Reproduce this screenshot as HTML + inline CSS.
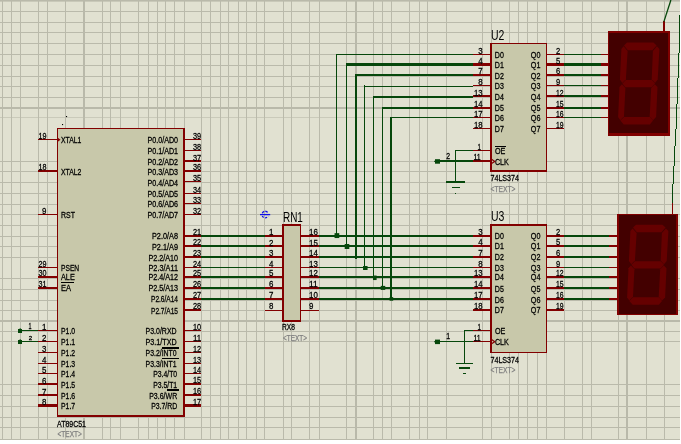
<!DOCTYPE html>
<html><head><meta charset="utf-8"><title>schematic</title>
<style>html,body{margin:0;padding:0;background:#fff;overflow:hidden}svg{display:block;font-family:"Liberation Sans",sans-serif}text{font-family:"Liberation Sans",sans-serif}svg{will-change:transform}</style></head>
<body>
<svg width="681" height="444" viewBox="0 0 681 444">
<rect x="0" y="0" width="681" height="444" fill="#e1e1d1"/>
<rect x="0" y="0" width="681" height="1.6" fill="#b9b9aa"/>
<line x1="2.5" y1="0" x2="2.5" y2="440" stroke="#babaab" stroke-width="1"  shape-rendering="crispEdges"/>
<line x1="11.5" y1="0" x2="11.5" y2="440" stroke="#babaab" stroke-width="1"  shape-rendering="crispEdges"/>
<line x1="20.5" y1="0" x2="20.5" y2="440" stroke="#babaab" stroke-width="1"  shape-rendering="crispEdges"/>
<line x1="38.5" y1="0" x2="38.5" y2="440" stroke="#babaab" stroke-width="1"  shape-rendering="crispEdges"/>
<line x1="47.5" y1="0" x2="47.5" y2="440" stroke="#babaab" stroke-width="1"  shape-rendering="crispEdges"/>
<line x1="65.5" y1="0" x2="65.5" y2="440" stroke="#babaab" stroke-width="1"  shape-rendering="crispEdges"/>
<line x1="84.0" y1="0" x2="84.0" y2="440" stroke="#b9b9aa" stroke-width="2"  shape-rendering="crispEdges"/>
<line x1="102.5" y1="0" x2="102.5" y2="440" stroke="#babaab" stroke-width="1"  shape-rendering="crispEdges"/>
<line x1="110.5" y1="0" x2="110.5" y2="440" stroke="#babaab" stroke-width="1"  shape-rendering="crispEdges"/>
<line x1="120.5" y1="0" x2="120.5" y2="440" stroke="#babaab" stroke-width="1"  shape-rendering="crispEdges"/>
<line x1="138.5" y1="0" x2="138.5" y2="440" stroke="#babaab" stroke-width="1"  shape-rendering="crispEdges"/>
<line x1="148.5" y1="0" x2="148.5" y2="440" stroke="#babaab" stroke-width="1"  shape-rendering="crispEdges"/>
<line x1="157.5" y1="0" x2="157.5" y2="440" stroke="#babaab" stroke-width="1"  shape-rendering="crispEdges"/>
<line x1="165.5" y1="0" x2="165.5" y2="440" stroke="#babaab" stroke-width="1"  shape-rendering="crispEdges"/>
<line x1="174.5" y1="0" x2="174.5" y2="440" stroke="#babaab" stroke-width="1"  shape-rendering="crispEdges"/>
<line x1="184.5" y1="0" x2="184.5" y2="440" stroke="#babaab" stroke-width="1"  shape-rendering="crispEdges"/>
<line x1="201.5" y1="0" x2="201.5" y2="440" stroke="#babaab" stroke-width="1"  shape-rendering="crispEdges"/>
<line x1="210.5" y1="0" x2="210.5" y2="440" stroke="#babaab" stroke-width="1"  shape-rendering="crispEdges"/>
<line x1="220.5" y1="0" x2="220.5" y2="440" stroke="#babaab" stroke-width="1"  shape-rendering="crispEdges"/>
<line x1="228.5" y1="0" x2="228.5" y2="440" stroke="#babaab" stroke-width="1"  shape-rendering="crispEdges"/>
<line x1="238.5" y1="0" x2="238.5" y2="440" stroke="#babaab" stroke-width="1"  shape-rendering="crispEdges"/>
<line x1="246.5" y1="0" x2="246.5" y2="440" stroke="#babaab" stroke-width="1"  shape-rendering="crispEdges"/>
<line x1="256.5" y1="0" x2="256.5" y2="440" stroke="#babaab" stroke-width="1"  shape-rendering="crispEdges"/>
<line x1="264.5" y1="0" x2="264.5" y2="440" stroke="#babaab" stroke-width="1"  shape-rendering="crispEdges"/>
<line x1="283.5" y1="0" x2="283.5" y2="440" stroke="#babaab" stroke-width="1"  shape-rendering="crispEdges"/>
<line x1="291.5" y1="0" x2="291.5" y2="440" stroke="#babaab" stroke-width="1"  shape-rendering="crispEdges"/>
<line x1="309.5" y1="0" x2="309.5" y2="440" stroke="#babaab" stroke-width="1"  shape-rendering="crispEdges"/>
<line x1="319.5" y1="0" x2="319.5" y2="440" stroke="#babaab" stroke-width="1"  shape-rendering="crispEdges"/>
<line x1="346.5" y1="0" x2="346.5" y2="440" stroke="#babaab" stroke-width="1"  shape-rendering="crispEdges"/>
<line x1="356.0" y1="0" x2="356.0" y2="440" stroke="#b9b9aa" stroke-width="2"  shape-rendering="crispEdges"/>
<line x1="373.5" y1="0" x2="373.5" y2="440" stroke="#babaab" stroke-width="1"  shape-rendering="crispEdges"/>
<line x1="382.5" y1="0" x2="382.5" y2="440" stroke="#babaab" stroke-width="1"  shape-rendering="crispEdges"/>
<line x1="391.5" y1="0" x2="391.5" y2="440" stroke="#babaab" stroke-width="1"  shape-rendering="crispEdges"/>
<line x1="409.5" y1="0" x2="409.5" y2="440" stroke="#babaab" stroke-width="1"  shape-rendering="crispEdges"/>
<line x1="419.5" y1="0" x2="419.5" y2="440" stroke="#babaab" stroke-width="1"  shape-rendering="crispEdges"/>
<line x1="427.5" y1="0" x2="427.5" y2="440" stroke="#babaab" stroke-width="1"  shape-rendering="crispEdges"/>
<line x1="446.5" y1="0" x2="446.5" y2="440" stroke="#babaab" stroke-width="1"  shape-rendering="crispEdges"/>
<line x1="482.5" y1="0" x2="482.5" y2="440" stroke="#babaab" stroke-width="1"  shape-rendering="crispEdges"/>
<line x1="491.5" y1="0" x2="491.5" y2="440" stroke="#babaab" stroke-width="1"  shape-rendering="crispEdges"/>
<line x1="509.5" y1="0" x2="509.5" y2="440" stroke="#babaab" stroke-width="1"  shape-rendering="crispEdges"/>
<line x1="518.5" y1="0" x2="518.5" y2="440" stroke="#babaab" stroke-width="1"  shape-rendering="crispEdges"/>
<line x1="527.5" y1="0" x2="527.5" y2="440" stroke="#babaab" stroke-width="1"  shape-rendering="crispEdges"/>
<line x1="537.5" y1="0" x2="537.5" y2="440" stroke="#babaab" stroke-width="1"  shape-rendering="crispEdges"/>
<line x1="546.5" y1="0" x2="546.5" y2="440" stroke="#babaab" stroke-width="1"  shape-rendering="crispEdges"/>
<line x1="564.5" y1="0" x2="564.5" y2="440" stroke="#babaab" stroke-width="1"  shape-rendering="crispEdges"/>
<line x1="582.5" y1="0" x2="582.5" y2="440" stroke="#babaab" stroke-width="1"  shape-rendering="crispEdges"/>
<line x1="591.5" y1="0" x2="591.5" y2="440" stroke="#babaab" stroke-width="1"  shape-rendering="crispEdges"/>
<line x1="618.5" y1="0" x2="618.5" y2="440" stroke="#babaab" stroke-width="1"  shape-rendering="crispEdges"/>
<line x1="627.0" y1="0" x2="627.0" y2="440" stroke="#b9b9aa" stroke-width="2"  shape-rendering="crispEdges"/>
<line x1="646.5" y1="0" x2="646.5" y2="440" stroke="#babaab" stroke-width="1"  shape-rendering="crispEdges"/>
<line x1="664.5" y1="0" x2="664.5" y2="440" stroke="#babaab" stroke-width="1"  shape-rendering="crispEdges"/>
<line x1="0" y1="11.5" x2="680" y2="11.5" stroke="#babaab" stroke-width="1"  shape-rendering="crispEdges"/>
<line x1="0" y1="22.5" x2="680" y2="22.5" stroke="#babaab" stroke-width="1"  shape-rendering="crispEdges"/>
<line x1="0" y1="32.5" x2="680" y2="32.5" stroke="#babaab" stroke-width="1"  shape-rendering="crispEdges"/>
<line x1="0" y1="43.5" x2="680" y2="43.5" stroke="#babaab" stroke-width="1"  shape-rendering="crispEdges"/>
<line x1="0" y1="54.5" x2="680" y2="54.5" stroke="#babaab" stroke-width="1"  shape-rendering="crispEdges"/>
<line x1="0" y1="65.5" x2="680" y2="65.5" stroke="#babaab" stroke-width="1"  shape-rendering="crispEdges"/>
<line x1="0" y1="76.5" x2="680" y2="76.5" stroke="#babaab" stroke-width="1"  shape-rendering="crispEdges"/>
<line x1="0" y1="86.5" x2="680" y2="86.5" stroke="#babaab" stroke-width="1"  shape-rendering="crispEdges"/>
<line x1="0" y1="97.5" x2="680" y2="97.5" stroke="#babaab" stroke-width="1"  shape-rendering="crispEdges"/>
<line x1="0" y1="108.0" x2="680" y2="108.0" stroke="#b9b9aa" stroke-width="2"  shape-rendering="crispEdges"/>
<line x1="0" y1="117.5" x2="680" y2="117.5" stroke="#babaab" stroke-width="0.6" />
<line x1="0" y1="161.5" x2="680" y2="161.5" stroke="#babaab" stroke-width="1"  shape-rendering="crispEdges"/>
<line x1="0" y1="171.5" x2="680" y2="171.5" stroke="#babaab" stroke-width="1"  shape-rendering="crispEdges"/>
<line x1="0" y1="182.5" x2="680" y2="182.5" stroke="#babaab" stroke-width="1"  shape-rendering="crispEdges"/>
<line x1="0" y1="193.5" x2="680" y2="193.5" stroke="#babaab" stroke-width="1"  shape-rendering="crispEdges"/>
<line x1="0" y1="204.5" x2="680" y2="204.5" stroke="#babaab" stroke-width="1"  shape-rendering="crispEdges"/>
<line x1="0" y1="214.5" x2="680" y2="214.5" stroke="#babaab" stroke-width="1"  shape-rendering="crispEdges"/>
<line x1="0" y1="225.5" x2="680" y2="225.5" stroke="#babaab" stroke-width="1"  shape-rendering="crispEdges"/>
<line x1="0" y1="236.5" x2="680" y2="236.5" stroke="#babaab" stroke-width="1"  shape-rendering="crispEdges"/>
<line x1="0" y1="246.5" x2="680" y2="246.5" stroke="#babaab" stroke-width="1"  shape-rendering="crispEdges"/>
<line x1="0" y1="257.5" x2="680" y2="257.5" stroke="#babaab" stroke-width="1"  shape-rendering="crispEdges"/>
<line x1="0" y1="278.5" x2="680" y2="278.5" stroke="#babaab" stroke-width="1"  shape-rendering="crispEdges"/>
<line x1="0" y1="289.5" x2="680" y2="289.5" stroke="#babaab" stroke-width="1"  shape-rendering="crispEdges"/>
<line x1="0" y1="300.5" x2="680" y2="300.5" stroke="#babaab" stroke-width="1"  shape-rendering="crispEdges"/>
<line x1="0" y1="310.5" x2="680" y2="310.5" stroke="#babaab" stroke-width="1"  shape-rendering="crispEdges"/>
<line x1="0" y1="321.0" x2="680" y2="321.0" stroke="#b9b9aa" stroke-width="2"  shape-rendering="crispEdges"/>
<line x1="0" y1="331.5" x2="680" y2="331.5" stroke="#babaab" stroke-width="1"  shape-rendering="crispEdges"/>
<line x1="0" y1="341.5" x2="680" y2="341.5" stroke="#babaab" stroke-width="1"  shape-rendering="crispEdges"/>
<line x1="0" y1="384.5" x2="680" y2="384.5" stroke="#babaab" stroke-width="1"  shape-rendering="crispEdges"/>
<line x1="0" y1="395.5" x2="680" y2="395.5" stroke="#babaab" stroke-width="1"  shape-rendering="crispEdges"/>
<line x1="0" y1="406.5" x2="680" y2="406.5" stroke="#babaab" stroke-width="1"  shape-rendering="crispEdges"/>
<line x1="0" y1="417.5" x2="680" y2="417.5" stroke="#babaab" stroke-width="1"  shape-rendering="crispEdges"/>
<line x1="0" y1="427.5" x2="680" y2="427.5" stroke="#babaab" stroke-width="1"  shape-rendering="crispEdges"/>
<line x1="0" y1="439.5" x2="680" y2="439.5" stroke="#babaab" stroke-width="1"  shape-rendering="crispEdges"/>
<rect x="57.5" y="128.5" width="126.5" height="287.5" fill="#c8c8aa"/>
<line x1="57" y1="128.5" x2="185" y2="128.5" stroke="#820000" stroke-width="1"  shape-rendering="crispEdges"/>
<line x1="57.5" y1="128" x2="57.5" y2="417" stroke="#820000" stroke-width="1"  shape-rendering="crispEdges"/>
<line x1="184.0" y1="128" x2="184.0" y2="417" stroke="#820000" stroke-width="2"  shape-rendering="crispEdges"/>
<line x1="57" y1="416.0" x2="185" y2="416.0" stroke="#820000" stroke-width="2"  shape-rendering="crispEdges"/>
<line x1="38" y1="139.5" x2="58" y2="139.5" stroke="#820000" stroke-width="1"  shape-rendering="crispEdges"/>
<text x="46.5" y="139.1" font-size="9.6" text-anchor="end" fill="#000000" font-weight="normal" textLength="8.0" lengthAdjust="spacingAndGlyphs" stroke="#000" stroke-width="0.28" >19</text>
<text x="61" y="143.29999999999998" font-size="9.0" text-anchor="start" fill="#000000" font-weight="normal" textLength="20.4" lengthAdjust="spacingAndGlyphs" stroke="#000" stroke-width="0.28" >XTAL1</text>
<line x1="38" y1="171.0" x2="58" y2="171.0" stroke="#820000" stroke-width="2"  shape-rendering="crispEdges"/>
<text x="46.5" y="170.4" font-size="9.6" text-anchor="end" fill="#000000" font-weight="normal" textLength="8.0" lengthAdjust="spacingAndGlyphs" stroke="#000" stroke-width="0.28" >18</text>
<text x="61" y="174.6" font-size="9.0" text-anchor="start" fill="#000000" font-weight="normal" textLength="20.4" lengthAdjust="spacingAndGlyphs" stroke="#000" stroke-width="0.28" >XTAL2</text>
<line x1="38" y1="214.5" x2="58" y2="214.5" stroke="#820000" stroke-width="1"  shape-rendering="crispEdges"/>
<text x="46.5" y="213.8" font-size="9.6" text-anchor="end" fill="#000000" font-weight="normal" textLength="4.4" lengthAdjust="spacingAndGlyphs" stroke="#000" stroke-width="0.28" >9</text>
<text x="61" y="218.0" font-size="9.0" text-anchor="start" fill="#000000" font-weight="normal" textLength="14" lengthAdjust="spacingAndGlyphs" stroke="#000" stroke-width="0.28" >RST</text>
<line x1="38" y1="267.5" x2="58" y2="267.5" stroke="#820000" stroke-width="1"  shape-rendering="crispEdges"/>
<text x="46.5" y="266.9" font-size="9.6" text-anchor="end" fill="#000000" font-weight="normal" textLength="8.0" lengthAdjust="spacingAndGlyphs" stroke="#000" stroke-width="0.28" >29</text>
<text x="61" y="271.1" font-size="9.0" text-anchor="start" fill="#000000" font-weight="normal" textLength="18.2" lengthAdjust="spacingAndGlyphs" stroke="#000" stroke-width="0.28" >PSEN</text>
<line x1="38" y1="277.0" x2="58" y2="277.0" stroke="#820000" stroke-width="2"  shape-rendering="crispEdges"/>
<text x="46.5" y="276.09999999999997" font-size="9.6" text-anchor="end" fill="#000000" font-weight="normal" textLength="8.0" lengthAdjust="spacingAndGlyphs" stroke="#000" stroke-width="0.28" >30</text>
<text x="61" y="280.3" font-size="9.0" text-anchor="start" fill="#000000" font-weight="normal" textLength="13.8" lengthAdjust="spacingAndGlyphs" stroke="#000" stroke-width="0.28" >ALE</text>
<line x1="38" y1="288.0" x2="58" y2="288.0" stroke="#820000" stroke-width="2"  shape-rendering="crispEdges"/>
<text x="46.5" y="287.09999999999997" font-size="9.6" text-anchor="end" fill="#000000" font-weight="normal" textLength="8.0" lengthAdjust="spacingAndGlyphs" stroke="#000" stroke-width="0.28" >31</text>
<text x="61" y="291.3" font-size="9.0" text-anchor="start" fill="#000000" font-weight="normal" textLength="10" lengthAdjust="spacingAndGlyphs" stroke="#000" stroke-width="0.28" >EA</text>
<line x1="38" y1="330.5" x2="58" y2="330.5" stroke="#820000" stroke-width="1"  shape-rendering="crispEdges"/>
<text x="46.5" y="330.09999999999997" font-size="9.6" text-anchor="end" fill="#000000" font-weight="normal" textLength="4.4" lengthAdjust="spacingAndGlyphs" stroke="#000" stroke-width="0.28" >1</text>
<text x="61" y="334.3" font-size="9.0" text-anchor="start" fill="#000000" font-weight="normal" textLength="14.1" lengthAdjust="spacingAndGlyphs" stroke="#000" stroke-width="0.28" >P1.0</text>
<line x1="38" y1="341.5" x2="58" y2="341.5" stroke="#820000" stroke-width="1"  shape-rendering="crispEdges"/>
<text x="46.5" y="340.7" font-size="9.6" text-anchor="end" fill="#000000" font-weight="normal" textLength="4.4" lengthAdjust="spacingAndGlyphs" stroke="#000" stroke-width="0.28" >2</text>
<text x="61" y="344.90000000000003" font-size="9.0" text-anchor="start" fill="#000000" font-weight="normal" textLength="14.1" lengthAdjust="spacingAndGlyphs" stroke="#000" stroke-width="0.28" >P1.1</text>
<line x1="38" y1="352.5" x2="58" y2="352.5" stroke="#820000" stroke-width="1"  shape-rendering="crispEdges"/>
<text x="46.5" y="351.79999999999995" font-size="9.6" text-anchor="end" fill="#000000" font-weight="normal" textLength="4.4" lengthAdjust="spacingAndGlyphs" stroke="#000" stroke-width="0.28" >3</text>
<text x="61" y="356.0" font-size="9.0" text-anchor="start" fill="#000000" font-weight="normal" textLength="14.1" lengthAdjust="spacingAndGlyphs" stroke="#000" stroke-width="0.28" >P1.2</text>
<line x1="38" y1="363.5" x2="58" y2="363.5" stroke="#820000" stroke-width="1"  shape-rendering="crispEdges"/>
<text x="46.5" y="362.79999999999995" font-size="9.6" text-anchor="end" fill="#000000" font-weight="normal" textLength="4.4" lengthAdjust="spacingAndGlyphs" stroke="#000" stroke-width="0.28" >4</text>
<text x="61" y="367.0" font-size="9.0" text-anchor="start" fill="#000000" font-weight="normal" textLength="14.1" lengthAdjust="spacingAndGlyphs" stroke="#000" stroke-width="0.28" >P1.3</text>
<line x1="38" y1="373.5" x2="58" y2="373.5" stroke="#820000" stroke-width="1"  shape-rendering="crispEdges"/>
<text x="46.5" y="372.79999999999995" font-size="9.6" text-anchor="end" fill="#000000" font-weight="normal" textLength="4.4" lengthAdjust="spacingAndGlyphs" stroke="#000" stroke-width="0.28" >5</text>
<text x="61" y="377.0" font-size="9.0" text-anchor="start" fill="#000000" font-weight="normal" textLength="14.1" lengthAdjust="spacingAndGlyphs" stroke="#000" stroke-width="0.28" >P1.4</text>
<line x1="38" y1="384.0" x2="58" y2="384.0" stroke="#820000" stroke-width="2"  shape-rendering="crispEdges"/>
<text x="46.5" y="383.5" font-size="9.6" text-anchor="end" fill="#000000" font-weight="normal" textLength="4.4" lengthAdjust="spacingAndGlyphs" stroke="#000" stroke-width="0.28" >6</text>
<text x="61" y="387.70000000000005" font-size="9.0" text-anchor="start" fill="#000000" font-weight="normal" textLength="14.1" lengthAdjust="spacingAndGlyphs" stroke="#000" stroke-width="0.28" >P1.5</text>
<line x1="38" y1="395.0" x2="58" y2="395.0" stroke="#820000" stroke-width="2"  shape-rendering="crispEdges"/>
<text x="46.5" y="394.5" font-size="9.6" text-anchor="end" fill="#000000" font-weight="normal" textLength="4.4" lengthAdjust="spacingAndGlyphs" stroke="#000" stroke-width="0.28" >7</text>
<text x="61" y="398.70000000000005" font-size="9.0" text-anchor="start" fill="#000000" font-weight="normal" textLength="14.1" lengthAdjust="spacingAndGlyphs" stroke="#000" stroke-width="0.28" >P1.6</text>
<line x1="38" y1="405.5" x2="58" y2="405.5" stroke="#820000" stroke-width="3"  shape-rendering="crispEdges"/>
<text x="46.5" y="404.79999999999995" font-size="9.6" text-anchor="end" fill="#000000" font-weight="normal" textLength="4.4" lengthAdjust="spacingAndGlyphs" stroke="#000" stroke-width="0.28" >8</text>
<text x="61" y="409.0" font-size="9.0" text-anchor="start" fill="#000000" font-weight="normal" textLength="14.1" lengthAdjust="spacingAndGlyphs" stroke="#000" stroke-width="0.28" >P1.7</text>
<line x1="61" y1="282.5" x2="74" y2="282.5" stroke="#000000" stroke-width="1"  shape-rendering="crispEdges"/>
<path d="M57.5,137.5 L60.5,139.7 L57.5,141.89999999999998 Z" fill="#820000"/>
<line x1="184" y1="139.5" x2="201" y2="139.5" stroke="#820000" stroke-width="1"  shape-rendering="crispEdges"/>
<text x="193.0" y="138.8" font-size="9.6" text-anchor="start" fill="#000000" font-weight="normal" textLength="8.2" lengthAdjust="spacingAndGlyphs" stroke="#000" stroke-width="0.28" >39</text>
<text x="178" y="143.0" font-size="9.0" text-anchor="end" fill="#000000" font-weight="normal" textLength="30.5" lengthAdjust="spacingAndGlyphs" stroke="#000" stroke-width="0.28" >P0.0/AD0</text>
<line x1="184" y1="150.5" x2="201" y2="150.5" stroke="#820000" stroke-width="1"  shape-rendering="crispEdges"/>
<text x="193.0" y="149.5" font-size="9.6" text-anchor="start" fill="#000000" font-weight="normal" textLength="8.2" lengthAdjust="spacingAndGlyphs" stroke="#000" stroke-width="0.28" >38</text>
<text x="178" y="153.7" font-size="9.0" text-anchor="end" fill="#000000" font-weight="normal" textLength="30.5" lengthAdjust="spacingAndGlyphs" stroke="#000" stroke-width="0.28" >P0.1/AD1</text>
<line x1="184" y1="161.0" x2="201" y2="161.0" stroke="#820000" stroke-width="2"  shape-rendering="crispEdges"/>
<text x="193.0" y="160.5" font-size="9.6" text-anchor="start" fill="#000000" font-weight="normal" textLength="8.2" lengthAdjust="spacingAndGlyphs" stroke="#000" stroke-width="0.28" >37</text>
<text x="178" y="164.7" font-size="9.0" text-anchor="end" fill="#000000" font-weight="normal" textLength="30.5" lengthAdjust="spacingAndGlyphs" stroke="#000" stroke-width="0.28" >P0.2/AD2</text>
<line x1="184" y1="171.0" x2="201" y2="171.0" stroke="#820000" stroke-width="2"  shape-rendering="crispEdges"/>
<text x="193.0" y="170.4" font-size="9.6" text-anchor="start" fill="#000000" font-weight="normal" textLength="8.2" lengthAdjust="spacingAndGlyphs" stroke="#000" stroke-width="0.28" >36</text>
<text x="178" y="174.6" font-size="9.0" text-anchor="end" fill="#000000" font-weight="normal" textLength="30.5" lengthAdjust="spacingAndGlyphs" stroke="#000" stroke-width="0.28" >P0.3/AD3</text>
<line x1="184" y1="181.5" x2="201" y2="181.5" stroke="#820000" stroke-width="1"  shape-rendering="crispEdges"/>
<text x="193.0" y="181.3" font-size="9.6" text-anchor="start" fill="#000000" font-weight="normal" textLength="8.2" lengthAdjust="spacingAndGlyphs" stroke="#000" stroke-width="0.28" >35</text>
<text x="178" y="185.5" font-size="9.0" text-anchor="end" fill="#000000" font-weight="normal" textLength="30.5" lengthAdjust="spacingAndGlyphs" stroke="#000" stroke-width="0.28" >P0.4/AD4</text>
<line x1="184" y1="193.5" x2="201" y2="193.5" stroke="#820000" stroke-width="1"  shape-rendering="crispEdges"/>
<text x="193.0" y="192.8" font-size="9.6" text-anchor="start" fill="#000000" font-weight="normal" textLength="8.2" lengthAdjust="spacingAndGlyphs" stroke="#000" stroke-width="0.28" >34</text>
<text x="178" y="197.0" font-size="9.0" text-anchor="end" fill="#000000" font-weight="normal" textLength="30.5" lengthAdjust="spacingAndGlyphs" stroke="#000" stroke-width="0.28" >P0.5/AD5</text>
<line x1="184" y1="203.5" x2="201" y2="203.5" stroke="#820000" stroke-width="1"  shape-rendering="crispEdges"/>
<text x="193.0" y="202.6" font-size="9.6" text-anchor="start" fill="#000000" font-weight="normal" textLength="8.2" lengthAdjust="spacingAndGlyphs" stroke="#000" stroke-width="0.28" >33</text>
<text x="178" y="206.79999999999998" font-size="9.0" text-anchor="end" fill="#000000" font-weight="normal" textLength="30.5" lengthAdjust="spacingAndGlyphs" stroke="#000" stroke-width="0.28" >P0.6/AD6</text>
<line x1="184" y1="214.5" x2="201" y2="214.5" stroke="#820000" stroke-width="1"  shape-rendering="crispEdges"/>
<text x="193.0" y="213.8" font-size="9.6" text-anchor="start" fill="#000000" font-weight="normal" textLength="8.2" lengthAdjust="spacingAndGlyphs" stroke="#000" stroke-width="0.28" >32</text>
<text x="178" y="218.0" font-size="9.0" text-anchor="end" fill="#000000" font-weight="normal" textLength="30.5" lengthAdjust="spacingAndGlyphs" stroke="#000" stroke-width="0.28" >P0.7/AD7</text>
<line x1="184" y1="236.0" x2="201" y2="236.0" stroke="#820000" stroke-width="2"  shape-rendering="crispEdges"/>
<text x="193.0" y="235.0" font-size="9.6" text-anchor="start" fill="#000000" font-weight="normal" textLength="8.2" lengthAdjust="spacingAndGlyphs" stroke="#000" stroke-width="0.28" >21</text>
<text x="178" y="239.2" font-size="9.0" text-anchor="end" fill="#000000" font-weight="normal" textLength="26" lengthAdjust="spacingAndGlyphs" stroke="#000" stroke-width="0.28" >P2.0/A8</text>
<line x1="184" y1="246.0" x2="201" y2="246.0" stroke="#820000" stroke-width="2"  shape-rendering="crispEdges"/>
<text x="193.0" y="245.3" font-size="9.6" text-anchor="start" fill="#000000" font-weight="normal" textLength="8.2" lengthAdjust="spacingAndGlyphs" stroke="#000" stroke-width="0.28" >22</text>
<text x="178" y="249.5" font-size="9.0" text-anchor="end" fill="#000000" font-weight="normal" textLength="26" lengthAdjust="spacingAndGlyphs" stroke="#000" stroke-width="0.28" >P2.1/A9</text>
<line x1="184" y1="257.0" x2="201" y2="257.0" stroke="#820000" stroke-width="2"  shape-rendering="crispEdges"/>
<text x="193.0" y="256.29999999999995" font-size="9.6" text-anchor="start" fill="#000000" font-weight="normal" textLength="8.2" lengthAdjust="spacingAndGlyphs" stroke="#000" stroke-width="0.28" >23</text>
<text x="178" y="260.5" font-size="9.0" text-anchor="end" fill="#000000" font-weight="normal" textLength="29.5" lengthAdjust="spacingAndGlyphs" stroke="#000" stroke-width="0.28" >P2.2/A10</text>
<line x1="184" y1="267.5" x2="201" y2="267.5" stroke="#820000" stroke-width="1"  shape-rendering="crispEdges"/>
<text x="193.0" y="266.9" font-size="9.6" text-anchor="start" fill="#000000" font-weight="normal" textLength="8.2" lengthAdjust="spacingAndGlyphs" stroke="#000" stroke-width="0.28" >24</text>
<text x="178" y="271.1" font-size="9.0" text-anchor="end" fill="#000000" font-weight="normal" textLength="29.5" lengthAdjust="spacingAndGlyphs" stroke="#000" stroke-width="0.28" >P2.3/A11</text>
<line x1="184" y1="277.0" x2="201" y2="277.0" stroke="#820000" stroke-width="2"  shape-rendering="crispEdges"/>
<text x="193.0" y="276.09999999999997" font-size="9.6" text-anchor="start" fill="#000000" font-weight="normal" textLength="8.2" lengthAdjust="spacingAndGlyphs" stroke="#000" stroke-width="0.28" >25</text>
<text x="178" y="280.3" font-size="9.0" text-anchor="end" fill="#000000" font-weight="normal" textLength="29.5" lengthAdjust="spacingAndGlyphs" stroke="#000" stroke-width="0.28" >P2.4/A12</text>
<line x1="184" y1="288.0" x2="201" y2="288.0" stroke="#820000" stroke-width="2"  shape-rendering="crispEdges"/>
<text x="193.0" y="287.09999999999997" font-size="9.6" text-anchor="start" fill="#000000" font-weight="normal" textLength="8.2" lengthAdjust="spacingAndGlyphs" stroke="#000" stroke-width="0.28" >26</text>
<text x="178" y="291.3" font-size="9.0" text-anchor="end" fill="#000000" font-weight="normal" textLength="29.5" lengthAdjust="spacingAndGlyphs" stroke="#000" stroke-width="0.28" >P2.5/A13</text>
<line x1="184" y1="299.0" x2="201" y2="299.0" stroke="#820000" stroke-width="2"  shape-rendering="crispEdges"/>
<text x="193.0" y="298.09999999999997" font-size="9.6" text-anchor="start" fill="#000000" font-weight="normal" textLength="8.2" lengthAdjust="spacingAndGlyphs" stroke="#000" stroke-width="0.28" >27</text>
<text x="178" y="302.3" font-size="9.0" text-anchor="end" fill="#000000" font-weight="normal" textLength="27" lengthAdjust="spacingAndGlyphs" stroke="#000" stroke-width="0.28" >P2.6/A14</text>
<line x1="184" y1="310.0" x2="201" y2="310.0" stroke="#820000" stroke-width="2"  shape-rendering="crispEdges"/>
<text x="193.0" y="309.4" font-size="9.6" text-anchor="start" fill="#000000" font-weight="normal" textLength="8.2" lengthAdjust="spacingAndGlyphs" stroke="#000" stroke-width="0.28" >28</text>
<text x="178" y="313.6" font-size="9.0" text-anchor="end" fill="#000000" font-weight="normal" textLength="27" lengthAdjust="spacingAndGlyphs" stroke="#000" stroke-width="0.28" >P2.7/A15</text>
<line x1="184" y1="330.5" x2="201" y2="330.5" stroke="#820000" stroke-width="1"  shape-rendering="crispEdges"/>
<text x="193.0" y="329.9" font-size="9.6" text-anchor="start" fill="#000000" font-weight="normal" textLength="8.2" lengthAdjust="spacingAndGlyphs" stroke="#000" stroke-width="0.28" >10</text>
<text x="176.6" y="334.1" font-size="9.0" text-anchor="end" fill="#000000" font-weight="normal" textLength="31" lengthAdjust="spacingAndGlyphs" stroke="#000" stroke-width="0.28" >P3.0/RXD</text>
<line x1="184" y1="341.5" x2="201" y2="341.5" stroke="#820000" stroke-width="1"  shape-rendering="crispEdges"/>
<text x="193.0" y="341.0" font-size="9.6" text-anchor="start" fill="#000000" font-weight="normal" textLength="8.2" lengthAdjust="spacingAndGlyphs" stroke="#000" stroke-width="0.28" >11</text>
<text x="176.6" y="345.20000000000005" font-size="9.0" text-anchor="end" fill="#000000" font-weight="normal" textLength="31" lengthAdjust="spacingAndGlyphs" stroke="#000" stroke-width="0.28" >P3.1/TXD</text>
<line x1="184" y1="352.5" x2="201" y2="352.5" stroke="#820000" stroke-width="1"  shape-rendering="crispEdges"/>
<text x="193.0" y="351.5" font-size="9.6" text-anchor="start" fill="#000000" font-weight="normal" textLength="8.2" lengthAdjust="spacingAndGlyphs" stroke="#000" stroke-width="0.28" >12</text>
<text x="176.6" y="355.70000000000005" font-size="9.0" text-anchor="end" fill="#000000" font-weight="normal" textLength="31" lengthAdjust="spacingAndGlyphs" stroke="#000" stroke-width="0.28" >P3.2/INT0</text>
<line x1="184" y1="363.5" x2="201" y2="363.5" stroke="#820000" stroke-width="1"  shape-rendering="crispEdges"/>
<text x="193.0" y="362.59999999999997" font-size="9.6" text-anchor="start" fill="#000000" font-weight="normal" textLength="8.2" lengthAdjust="spacingAndGlyphs" stroke="#000" stroke-width="0.28" >13</text>
<text x="176.6" y="366.8" font-size="9.0" text-anchor="end" fill="#000000" font-weight="normal" textLength="31" lengthAdjust="spacingAndGlyphs" stroke="#000" stroke-width="0.28" >P3.3/INT1</text>
<line x1="184" y1="373.5" x2="201" y2="373.5" stroke="#820000" stroke-width="1"  shape-rendering="crispEdges"/>
<text x="193.0" y="372.9" font-size="9.6" text-anchor="start" fill="#000000" font-weight="normal" textLength="8.2" lengthAdjust="spacingAndGlyphs" stroke="#000" stroke-width="0.28" >14</text>
<text x="177.2" y="377.1" font-size="9.0" text-anchor="end" fill="#000000" font-weight="normal" textLength="24" lengthAdjust="spacingAndGlyphs" stroke="#000" stroke-width="0.28" >P3.4/T0</text>
<line x1="184" y1="384.0" x2="201" y2="384.0" stroke="#820000" stroke-width="2"  shape-rendering="crispEdges"/>
<text x="193.0" y="383.4" font-size="9.6" text-anchor="start" fill="#000000" font-weight="normal" textLength="8.2" lengthAdjust="spacingAndGlyphs" stroke="#000" stroke-width="0.28" >15</text>
<text x="177.2" y="387.6" font-size="9.0" text-anchor="end" fill="#000000" font-weight="normal" textLength="24" lengthAdjust="spacingAndGlyphs" stroke="#000" stroke-width="0.28" >P3.5/T1</text>
<line x1="184" y1="395.0" x2="201" y2="395.0" stroke="#820000" stroke-width="2"  shape-rendering="crispEdges"/>
<text x="193.0" y="394.4" font-size="9.6" text-anchor="start" fill="#000000" font-weight="normal" textLength="8.2" lengthAdjust="spacingAndGlyphs" stroke="#000" stroke-width="0.28" >16</text>
<text x="177.2" y="398.6" font-size="9.0" text-anchor="end" fill="#000000" font-weight="normal" textLength="28" lengthAdjust="spacingAndGlyphs" stroke="#000" stroke-width="0.28" >P3.6/WR</text>
<line x1="184" y1="405.5" x2="201" y2="405.5" stroke="#820000" stroke-width="3"  shape-rendering="crispEdges"/>
<text x="193.0" y="404.9" font-size="9.6" text-anchor="start" fill="#000000" font-weight="normal" textLength="8.2" lengthAdjust="spacingAndGlyphs" stroke="#000" stroke-width="0.28" >17</text>
<text x="177.2" y="409.1" font-size="9.0" text-anchor="end" fill="#000000" font-weight="normal" textLength="26" lengthAdjust="spacingAndGlyphs" stroke="#000" stroke-width="0.28" >P3.7/RD</text>
<line x1="162" y1="348.0" x2="179" y2="348.0" stroke="#000000" stroke-width="2"  shape-rendering="crispEdges"/>
<line x1="162" y1="358.5" x2="179" y2="358.5" stroke="#000000" stroke-width="1"  shape-rendering="crispEdges"/>
<line x1="167" y1="390.0" x2="179" y2="390.0" stroke="#000000" stroke-width="2"  shape-rendering="crispEdges"/>
<text x="57" y="426.9" font-size="9.0" text-anchor="start" fill="#000000" font-weight="normal" textLength="29" lengthAdjust="spacingAndGlyphs" stroke="#000" stroke-width="0.28" >AT89C51</text>
<text x="57.5" y="437.4" font-size="9.0" text-anchor="start" fill="#808080" font-weight="normal" textLength="24.3" lengthAdjust="spacingAndGlyphs" stroke="#808080" stroke-width="0.25" >&lt;TEXT&gt;</text>
<rect x="66" y="116" width="1.1" height="1.1" fill="#000"/>
<rect x="62" y="124" width="1.1" height="1.1" fill="#000"/>
<line x1="20" y1="330.5" x2="38" y2="330.5" stroke="#06470b" stroke-width="1"  shape-rendering="crispEdges"/>
<rect x="18" y="329" width="4" height="4" fill="#06470b" shape-rendering="crispEdges"/>
<rect x="19.6" y="328.3" width="1.2" height="1" fill="#06470b"/>
<line x1="20" y1="341.5" x2="38" y2="341.5" stroke="#06470b" stroke-width="1"  shape-rendering="crispEdges"/>
<rect x="18" y="340" width="4" height="4" fill="#06470b" shape-rendering="crispEdges"/>
<rect x="19.6" y="339.3" width="1.2" height="1" fill="#06470b"/>
<text x="28.4" y="329.0" font-size="8.2" text-anchor="start" fill="#000000" font-weight="normal" textLength="3.0" lengthAdjust="spacingAndGlyphs" stroke="#000" stroke-width="0.28" >1</text>
<text x="28.8" y="339.8" font-size="5.2" text-anchor="start" fill="#000000" font-weight="normal" textLength="3.4" lengthAdjust="spacingAndGlyphs" stroke="#000" stroke-width="0.28" >2</text>
<line x1="201" y1="236.0" x2="265" y2="236.0" stroke="#06470b" stroke-width="2"  shape-rendering="crispEdges"/>
<line x1="201" y1="246.0" x2="265" y2="246.0" stroke="#06470b" stroke-width="2"  shape-rendering="crispEdges"/>
<line x1="201" y1="257.0" x2="265" y2="257.0" stroke="#06470b" stroke-width="2"  shape-rendering="crispEdges"/>
<line x1="201" y1="267.5" x2="265" y2="267.5" stroke="#06470b" stroke-width="1"  shape-rendering="crispEdges"/>
<line x1="201" y1="277.0" x2="265" y2="277.0" stroke="#06470b" stroke-width="2"  shape-rendering="crispEdges"/>
<line x1="201" y1="288.0" x2="265" y2="288.0" stroke="#06470b" stroke-width="2"  shape-rendering="crispEdges"/>
<line x1="201" y1="299.0" x2="265" y2="299.0" stroke="#06470b" stroke-width="2"  shape-rendering="crispEdges"/>
<rect x="282" y="224" width="19" height="98" fill="#820000" shape-rendering="crispEdges"/>
<rect x="284" y="226" width="16" height="94" fill="#c8c8aa" shape-rendering="crispEdges"/>
<line x1="265" y1="236.0" x2="283" y2="236.0" stroke="#820000" stroke-width="2"  shape-rendering="crispEdges"/>
<line x1="300" y1="236.0" x2="319" y2="236.0" stroke="#820000" stroke-width="2"  shape-rendering="crispEdges"/>
<text x="271.2" y="235.1" font-size="9.6" text-anchor="middle" fill="#000000" font-weight="normal" textLength="4.4" lengthAdjust="spacingAndGlyphs" stroke="#000" stroke-width="0.28" >1</text>
<text x="309.0" y="235.1" font-size="9.6" text-anchor="start" fill="#000000" font-weight="normal" textLength="8.8" lengthAdjust="spacingAndGlyphs" stroke="#000" stroke-width="0.28" >16</text>
<line x1="265" y1="246.0" x2="283" y2="246.0" stroke="#820000" stroke-width="2"  shape-rendering="crispEdges"/>
<line x1="300" y1="246.0" x2="319" y2="246.0" stroke="#820000" stroke-width="2"  shape-rendering="crispEdges"/>
<text x="271.2" y="245.5" font-size="9.6" text-anchor="middle" fill="#000000" font-weight="normal" textLength="4.4" lengthAdjust="spacingAndGlyphs" stroke="#000" stroke-width="0.28" >2</text>
<text x="309.0" y="245.5" font-size="9.6" text-anchor="start" fill="#000000" font-weight="normal" textLength="8.8" lengthAdjust="spacingAndGlyphs" stroke="#000" stroke-width="0.28" >15</text>
<line x1="265" y1="257.0" x2="283" y2="257.0" stroke="#820000" stroke-width="2"  shape-rendering="crispEdges"/>
<line x1="300" y1="257.0" x2="319" y2="257.0" stroke="#820000" stroke-width="2"  shape-rendering="crispEdges"/>
<text x="271.2" y="256.2" font-size="9.6" text-anchor="middle" fill="#000000" font-weight="normal" textLength="4.4" lengthAdjust="spacingAndGlyphs" stroke="#000" stroke-width="0.28" >3</text>
<text x="309.0" y="256.2" font-size="9.6" text-anchor="start" fill="#000000" font-weight="normal" textLength="8.8" lengthAdjust="spacingAndGlyphs" stroke="#000" stroke-width="0.28" >14</text>
<line x1="265" y1="267.5" x2="283" y2="267.5" stroke="#820000" stroke-width="1"  shape-rendering="crispEdges"/>
<line x1="300" y1="267.5" x2="319" y2="267.5" stroke="#820000" stroke-width="1"  shape-rendering="crispEdges"/>
<text x="271.2" y="266.9" font-size="9.6" text-anchor="middle" fill="#000000" font-weight="normal" textLength="4.4" lengthAdjust="spacingAndGlyphs" stroke="#000" stroke-width="0.28" >4</text>
<text x="309.0" y="266.9" font-size="9.6" text-anchor="start" fill="#000000" font-weight="normal" textLength="8.8" lengthAdjust="spacingAndGlyphs" stroke="#000" stroke-width="0.28" >13</text>
<line x1="265" y1="277.0" x2="283" y2="277.0" stroke="#820000" stroke-width="2"  shape-rendering="crispEdges"/>
<line x1="300" y1="277.0" x2="319" y2="277.0" stroke="#820000" stroke-width="2"  shape-rendering="crispEdges"/>
<text x="271.2" y="276.4" font-size="9.6" text-anchor="middle" fill="#000000" font-weight="normal" textLength="4.4" lengthAdjust="spacingAndGlyphs" stroke="#000" stroke-width="0.28" >5</text>
<text x="309.0" y="276.4" font-size="9.6" text-anchor="start" fill="#000000" font-weight="normal" textLength="8.8" lengthAdjust="spacingAndGlyphs" stroke="#000" stroke-width="0.28" >12</text>
<line x1="265" y1="288.0" x2="283" y2="288.0" stroke="#820000" stroke-width="2"  shape-rendering="crispEdges"/>
<line x1="300" y1="288.0" x2="319" y2="288.0" stroke="#820000" stroke-width="2"  shape-rendering="crispEdges"/>
<text x="271.2" y="287.4" font-size="9.6" text-anchor="middle" fill="#000000" font-weight="normal" textLength="4.4" lengthAdjust="spacingAndGlyphs" stroke="#000" stroke-width="0.28" >6</text>
<text x="309.0" y="287.4" font-size="9.6" text-anchor="start" fill="#000000" font-weight="normal" textLength="8.8" lengthAdjust="spacingAndGlyphs" stroke="#000" stroke-width="0.28" >11</text>
<line x1="265" y1="299.0" x2="283" y2="299.0" stroke="#820000" stroke-width="2"  shape-rendering="crispEdges"/>
<line x1="300" y1="299.0" x2="319" y2="299.0" stroke="#820000" stroke-width="2"  shape-rendering="crispEdges"/>
<text x="271.2" y="298.2" font-size="9.6" text-anchor="middle" fill="#000000" font-weight="normal" textLength="4.4" lengthAdjust="spacingAndGlyphs" stroke="#000" stroke-width="0.28" >7</text>
<text x="309.0" y="298.2" font-size="9.6" text-anchor="start" fill="#000000" font-weight="normal" textLength="8.8" lengthAdjust="spacingAndGlyphs" stroke="#000" stroke-width="0.28" >10</text>
<line x1="265" y1="310.5" x2="283" y2="310.5" stroke="#820000" stroke-width="1"  shape-rendering="crispEdges"/>
<line x1="300" y1="310.5" x2="319" y2="310.5" stroke="#820000" stroke-width="1"  shape-rendering="crispEdges"/>
<text x="271.2" y="309.4" font-size="9.6" text-anchor="middle" fill="#000000" font-weight="normal" textLength="4.4" lengthAdjust="spacingAndGlyphs" stroke="#000" stroke-width="0.28" >8</text>
<text x="309.0" y="309.4" font-size="9.6" text-anchor="start" fill="#000000" font-weight="normal" textLength="4.4" lengthAdjust="spacingAndGlyphs" stroke="#000" stroke-width="0.28" >9</text>
<text x="283" y="221.5" font-size="14.3" text-anchor="start" fill="#000000" font-weight="normal" textLength="19.9" lengthAdjust="spacingAndGlyphs" >RN1</text>
<text x="282" y="329.8" font-size="9.0" text-anchor="start" fill="#000000" font-weight="normal" textLength="13" lengthAdjust="spacingAndGlyphs" stroke="#000" stroke-width="0.28" >RX8</text>
<text x="283" y="340.8" font-size="9.0" text-anchor="start" fill="#808080" font-weight="normal" textLength="24" lengthAdjust="spacingAndGlyphs" stroke="#808080" stroke-width="0.25" >&lt;TEXT&gt;</text>
<g stroke="#0c0ce6" fill="none" stroke-width="1.3"><path d="M262.3,213.2 A3.2,3.4 0 0 1 268.1,213.2" stroke-dasharray="2.6 1.0"/><path d="M262.3,215.9 A3.2,3.4 0 0 0 268.1,215.9" stroke-dasharray="2.0 1.4 2.0 1.4"/><line x1="260.0" y1="214.6" x2="270.2" y2="214.6"/></g>
<line x1="319" y1="236.0" x2="473" y2="236.0" stroke="#06470b" stroke-width="2"  shape-rendering="crispEdges"/>
<line x1="319" y1="246.0" x2="473" y2="246.0" stroke="#06470b" stroke-width="2"  shape-rendering="crispEdges"/>
<line x1="319" y1="257.0" x2="473" y2="257.0" stroke="#06470b" stroke-width="2"  shape-rendering="crispEdges"/>
<line x1="319" y1="267.5" x2="473" y2="267.5" stroke="#06470b" stroke-width="1"  shape-rendering="crispEdges"/>
<line x1="319" y1="277.0" x2="473" y2="277.0" stroke="#06470b" stroke-width="2"  shape-rendering="crispEdges"/>
<line x1="319" y1="288.0" x2="473" y2="288.0" stroke="#06470b" stroke-width="2"  shape-rendering="crispEdges"/>
<line x1="319" y1="299.0" x2="473" y2="299.0" stroke="#06470b" stroke-width="2"  shape-rendering="crispEdges"/>
<line x1="336.5" y1="54" x2="336.5" y2="236" stroke="#06470b" stroke-width="1"  shape-rendering="crispEdges"/>
<line x1="336" y1="54.5" x2="473" y2="54.5" stroke="#06470b" stroke-width="1"  shape-rendering="crispEdges"/>
<line x1="346.5" y1="63" x2="346.5" y2="246" stroke="#06470b" stroke-width="1"  shape-rendering="crispEdges"/>
<line x1="346" y1="64.5" x2="473" y2="64.5" stroke="#06470b" stroke-width="3"  shape-rendering="crispEdges"/>
<line x1="356.0" y1="74" x2="356.0" y2="259" stroke="#06470b" stroke-width="2"  shape-rendering="crispEdges"/>
<line x1="355" y1="75.0" x2="473" y2="75.0" stroke="#06470b" stroke-width="2"  shape-rendering="crispEdges"/>
<line x1="364.5" y1="85" x2="364.5" y2="268" stroke="#06470b" stroke-width="1"  shape-rendering="crispEdges"/>
<line x1="364" y1="86.5" x2="473" y2="86.5" stroke="#06470b" stroke-width="1"  shape-rendering="crispEdges"/>
<line x1="373.5" y1="96" x2="373.5" y2="277" stroke="#06470b" stroke-width="1"  shape-rendering="crispEdges"/>
<line x1="373" y1="97.0" x2="473" y2="97.0" stroke="#06470b" stroke-width="2"  shape-rendering="crispEdges"/>
<line x1="382.5" y1="107" x2="382.5" y2="288" stroke="#06470b" stroke-width="1"  shape-rendering="crispEdges"/>
<line x1="382" y1="108.0" x2="473" y2="108.0" stroke="#06470b" stroke-width="2"  shape-rendering="crispEdges"/>
<line x1="391.0" y1="117" x2="391.0" y2="299" stroke="#06470b" stroke-width="2"  shape-rendering="crispEdges"/>
<line x1="390" y1="117.5" x2="473" y2="117.5" stroke="#06470b" stroke-width="1"  shape-rendering="crispEdges"/>
<rect x="334.54999999999995" y="233.15" width="4.7" height="4.9" fill="#06470b"/>
<rect x="344.7" y="244.0" width="4.6" height="5.0" fill="#06470b"/>
<rect x="363.05" y="266.0" width="4.5" height="4.0" fill="#06470b"/>
<rect x="373.0" y="275.55" width="3.6" height="4.5" fill="#06470b"/>
<rect x="380.75" y="285.9" width="4.5" height="4.0" fill="#06470b"/>
<rect x="389.59999999999997" y="297.09999999999997" width="3.6" height="3.6" fill="#06470b"/>
<rect x="491.2" y="43.5" width="55.19999999999999" height="127.5" fill="#c8c8aa"/>
<line x1="490" y1="43.5" x2="547" y2="43.5" stroke="#820000" stroke-width="1"  shape-rendering="crispEdges"/>
<line x1="491.0" y1="43" x2="491.0" y2="172" stroke="#820000" stroke-width="2"  shape-rendering="crispEdges"/>
<line x1="546.5" y1="43" x2="546.5" y2="172" stroke="#820000" stroke-width="1"  shape-rendering="crispEdges"/>
<line x1="490" y1="171.0" x2="547" y2="171.0" stroke="#820000" stroke-width="2"  shape-rendering="crispEdges"/>
<text x="491" y="40.2" font-size="14.2" text-anchor="start" fill="#000000" font-weight="normal" textLength="13.4" lengthAdjust="spacingAndGlyphs" >U2</text>
<line x1="473" y1="54.5" x2="491" y2="54.5" stroke="#820000" stroke-width="1"  shape-rendering="crispEdges"/>
<line x1="546" y1="54.5" x2="564" y2="54.5" stroke="#820000" stroke-width="1"  shape-rendering="crispEdges"/>
<line x1="564" y1="54.5" x2="601" y2="54.5" stroke="#06470b" stroke-width="1"  shape-rendering="crispEdges"/>
<line x1="601" y1="54.5" x2="610" y2="54.5" stroke="#820000" stroke-width="1"  shape-rendering="crispEdges"/>
<text x="482.6" y="53.8" font-size="9.6" text-anchor="end" fill="#000000" font-weight="normal" textLength="4.4" lengthAdjust="spacingAndGlyphs" stroke="#000" stroke-width="0.28" >3</text>
<text x="556.0" y="53.8" font-size="9.6" text-anchor="start" fill="#000000" font-weight="normal" textLength="4.2" lengthAdjust="spacingAndGlyphs" stroke="#000" stroke-width="0.28" >2</text>
<text x="494.8" y="58.0" font-size="9.0" text-anchor="start" fill="#000000" font-weight="normal" textLength="9" lengthAdjust="spacingAndGlyphs" stroke="#000" stroke-width="0.28" >D0</text>
<text x="530.8" y="58.0" font-size="9.0" text-anchor="start" fill="#000000" font-weight="normal" textLength="9.6" lengthAdjust="spacingAndGlyphs" stroke="#000" stroke-width="0.28" >Q0</text>
<line x1="473" y1="64.5" x2="491" y2="64.5" stroke="#820000" stroke-width="3"  shape-rendering="crispEdges"/>
<line x1="546" y1="64.5" x2="564" y2="64.5" stroke="#820000" stroke-width="3"  shape-rendering="crispEdges"/>
<line x1="564" y1="64.5" x2="601" y2="64.5" stroke="#06470b" stroke-width="3"  shape-rendering="crispEdges"/>
<line x1="601" y1="64.5" x2="610" y2="64.5" stroke="#820000" stroke-width="3"  shape-rendering="crispEdges"/>
<text x="482.6" y="63.800000000000004" font-size="9.6" text-anchor="end" fill="#000000" font-weight="normal" textLength="4.4" lengthAdjust="spacingAndGlyphs" stroke="#000" stroke-width="0.28" >4</text>
<text x="556.0" y="63.800000000000004" font-size="9.6" text-anchor="start" fill="#000000" font-weight="normal" textLength="4.2" lengthAdjust="spacingAndGlyphs" stroke="#000" stroke-width="0.28" >5</text>
<text x="494.8" y="68.0" font-size="9.0" text-anchor="start" fill="#000000" font-weight="normal" textLength="9" lengthAdjust="spacingAndGlyphs" stroke="#000" stroke-width="0.28" >D1</text>
<text x="530.8" y="68.0" font-size="9.0" text-anchor="start" fill="#000000" font-weight="normal" textLength="9.6" lengthAdjust="spacingAndGlyphs" stroke="#000" stroke-width="0.28" >Q1</text>
<line x1="473" y1="75.0" x2="491" y2="75.0" stroke="#820000" stroke-width="2"  shape-rendering="crispEdges"/>
<line x1="546" y1="75.0" x2="564" y2="75.0" stroke="#820000" stroke-width="2"  shape-rendering="crispEdges"/>
<line x1="564" y1="75.0" x2="601" y2="75.0" stroke="#06470b" stroke-width="2"  shape-rendering="crispEdges"/>
<line x1="601" y1="75.0" x2="610" y2="75.0" stroke="#820000" stroke-width="2"  shape-rendering="crispEdges"/>
<text x="482.6" y="74.30000000000001" font-size="9.6" text-anchor="end" fill="#000000" font-weight="normal" textLength="4.4" lengthAdjust="spacingAndGlyphs" stroke="#000" stroke-width="0.28" >7</text>
<text x="556.0" y="74.30000000000001" font-size="9.6" text-anchor="start" fill="#000000" font-weight="normal" textLength="4.2" lengthAdjust="spacingAndGlyphs" stroke="#000" stroke-width="0.28" >6</text>
<text x="494.8" y="78.5" font-size="9.0" text-anchor="start" fill="#000000" font-weight="normal" textLength="9" lengthAdjust="spacingAndGlyphs" stroke="#000" stroke-width="0.28" >D2</text>
<text x="530.8" y="78.5" font-size="9.0" text-anchor="start" fill="#000000" font-weight="normal" textLength="9.6" lengthAdjust="spacingAndGlyphs" stroke="#000" stroke-width="0.28" >Q2</text>
<line x1="473" y1="85.5" x2="491" y2="85.5" stroke="#820000" stroke-width="1"  shape-rendering="crispEdges"/>
<line x1="546" y1="85.5" x2="564" y2="85.5" stroke="#820000" stroke-width="1"  shape-rendering="crispEdges"/>
<line x1="564" y1="85.5" x2="601" y2="85.5" stroke="#06470b" stroke-width="1"  shape-rendering="crispEdges"/>
<line x1="601" y1="85.5" x2="610" y2="85.5" stroke="#820000" stroke-width="1"  shape-rendering="crispEdges"/>
<text x="482.6" y="85.10000000000001" font-size="9.6" text-anchor="end" fill="#000000" font-weight="normal" textLength="4.4" lengthAdjust="spacingAndGlyphs" stroke="#000" stroke-width="0.28" >8</text>
<text x="556.0" y="85.10000000000001" font-size="9.6" text-anchor="start" fill="#000000" font-weight="normal" textLength="4.2" lengthAdjust="spacingAndGlyphs" stroke="#000" stroke-width="0.28" >9</text>
<text x="494.8" y="89.3" font-size="9.0" text-anchor="start" fill="#000000" font-weight="normal" textLength="9" lengthAdjust="spacingAndGlyphs" stroke="#000" stroke-width="0.28" >D3</text>
<text x="530.8" y="89.3" font-size="9.0" text-anchor="start" fill="#000000" font-weight="normal" textLength="9.6" lengthAdjust="spacingAndGlyphs" stroke="#000" stroke-width="0.28" >Q3</text>
<line x1="473" y1="96.0" x2="491" y2="96.0" stroke="#820000" stroke-width="2"  shape-rendering="crispEdges"/>
<line x1="546" y1="96.0" x2="564" y2="96.0" stroke="#820000" stroke-width="2"  shape-rendering="crispEdges"/>
<line x1="564" y1="96.0" x2="601" y2="96.0" stroke="#06470b" stroke-width="2"  shape-rendering="crispEdges"/>
<line x1="601" y1="96.0" x2="610" y2="96.0" stroke="#820000" stroke-width="2"  shape-rendering="crispEdges"/>
<text x="482.6" y="95.9" font-size="9.6" text-anchor="end" fill="#000000" font-weight="normal" textLength="8.6" lengthAdjust="spacingAndGlyphs" stroke="#000" stroke-width="0.28" >13</text>
<text x="556.0" y="95.9" font-size="9.6" text-anchor="start" fill="#000000" font-weight="normal" textLength="7.6" lengthAdjust="spacingAndGlyphs" stroke="#000" stroke-width="0.28" >12</text>
<text x="494.8" y="100.1" font-size="9.0" text-anchor="start" fill="#000000" font-weight="normal" textLength="9" lengthAdjust="spacingAndGlyphs" stroke="#000" stroke-width="0.28" >D4</text>
<text x="530.8" y="100.1" font-size="9.0" text-anchor="start" fill="#000000" font-weight="normal" textLength="9.6" lengthAdjust="spacingAndGlyphs" stroke="#000" stroke-width="0.28" >Q4</text>
<line x1="473" y1="108.0" x2="491" y2="108.0" stroke="#820000" stroke-width="2"  shape-rendering="crispEdges"/>
<line x1="546" y1="108.0" x2="564" y2="108.0" stroke="#820000" stroke-width="2"  shape-rendering="crispEdges"/>
<line x1="564" y1="108.0" x2="601" y2="108.0" stroke="#06470b" stroke-width="2"  shape-rendering="crispEdges"/>
<line x1="601" y1="108.0" x2="610" y2="108.0" stroke="#820000" stroke-width="2"  shape-rendering="crispEdges"/>
<text x="482.6" y="107.2" font-size="9.6" text-anchor="end" fill="#000000" font-weight="normal" textLength="8.6" lengthAdjust="spacingAndGlyphs" stroke="#000" stroke-width="0.28" >14</text>
<text x="556.0" y="107.2" font-size="9.6" text-anchor="start" fill="#000000" font-weight="normal" textLength="7.6" lengthAdjust="spacingAndGlyphs" stroke="#000" stroke-width="0.28" >15</text>
<text x="494.8" y="111.39999999999999" font-size="9.0" text-anchor="start" fill="#000000" font-weight="normal" textLength="9" lengthAdjust="spacingAndGlyphs" stroke="#000" stroke-width="0.28" >D5</text>
<text x="530.8" y="111.39999999999999" font-size="9.0" text-anchor="start" fill="#000000" font-weight="normal" textLength="9.6" lengthAdjust="spacingAndGlyphs" stroke="#000" stroke-width="0.28" >Q5</text>
<line x1="473" y1="117.5" x2="491" y2="117.5" stroke="#820000" stroke-width="1"  shape-rendering="crispEdges"/>
<line x1="546" y1="117.5" x2="564" y2="117.5" stroke="#820000" stroke-width="1"  shape-rendering="crispEdges"/>
<line x1="564" y1="117.5" x2="601" y2="117.5" stroke="#06470b" stroke-width="1"  shape-rendering="crispEdges"/>
<line x1="601" y1="117.5" x2="610" y2="117.5" stroke="#820000" stroke-width="1"  shape-rendering="crispEdges"/>
<text x="482.6" y="116.7" font-size="9.6" text-anchor="end" fill="#000000" font-weight="normal" textLength="8.6" lengthAdjust="spacingAndGlyphs" stroke="#000" stroke-width="0.28" >17</text>
<text x="556.0" y="116.7" font-size="9.6" text-anchor="start" fill="#000000" font-weight="normal" textLength="7.6" lengthAdjust="spacingAndGlyphs" stroke="#000" stroke-width="0.28" >16</text>
<text x="494.8" y="120.89999999999999" font-size="9.0" text-anchor="start" fill="#000000" font-weight="normal" textLength="9" lengthAdjust="spacingAndGlyphs" stroke="#000" stroke-width="0.28" >D6</text>
<text x="530.8" y="120.89999999999999" font-size="9.0" text-anchor="start" fill="#000000" font-weight="normal" textLength="9.6" lengthAdjust="spacingAndGlyphs" stroke="#000" stroke-width="0.28" >Q6</text>
<line x1="473" y1="128.5" x2="491" y2="128.5" stroke="#820000" stroke-width="1"  shape-rendering="crispEdges"/>
<line x1="546" y1="128.5" x2="564" y2="128.5" stroke="#820000" stroke-width="1"  shape-rendering="crispEdges"/>
<text x="482.6" y="127.80000000000001" font-size="9.6" text-anchor="end" fill="#000000" font-weight="normal" textLength="8.6" lengthAdjust="spacingAndGlyphs" stroke="#000" stroke-width="0.28" >18</text>
<text x="556.0" y="127.80000000000001" font-size="9.6" text-anchor="start" fill="#000000" font-weight="normal" textLength="7.6" lengthAdjust="spacingAndGlyphs" stroke="#000" stroke-width="0.28" >19</text>
<text x="494.8" y="132.0" font-size="9.0" text-anchor="start" fill="#000000" font-weight="normal" textLength="9" lengthAdjust="spacingAndGlyphs" stroke="#000" stroke-width="0.28" >D7</text>
<text x="530.8" y="132.0" font-size="9.0" text-anchor="start" fill="#000000" font-weight="normal" textLength="9.6" lengthAdjust="spacingAndGlyphs" stroke="#000" stroke-width="0.28" >Q7</text>
<line x1="473" y1="150.5" x2="491" y2="150.5" stroke="#820000" stroke-width="1"  shape-rendering="crispEdges"/>
<line x1="473" y1="161.0" x2="491" y2="161.0" stroke="#820000" stroke-width="2"  shape-rendering="crispEdges"/>
<text x="477.6" y="149.6" font-size="9.6" text-anchor="start" fill="#000000" font-weight="normal" textLength="3.4" lengthAdjust="spacingAndGlyphs" stroke="#000" stroke-width="0.28" >1</text>
<text x="473.5" y="160.4" font-size="9.6" text-anchor="start" fill="#000000" font-weight="normal" textLength="7.2" lengthAdjust="spacingAndGlyphs" stroke="#000" stroke-width="0.28" >11</text>
<text x="494.9" y="154.4" font-size="9.0" text-anchor="start" fill="#000000" font-weight="normal" textLength="10.4" lengthAdjust="spacingAndGlyphs" stroke="#000" stroke-width="0.28" >OE</text>
<text x="494.9" y="165.1" font-size="9.0" text-anchor="start" fill="#000000" font-weight="normal" textLength="13.9" lengthAdjust="spacingAndGlyphs" stroke="#000" stroke-width="0.28" >CLK</text>
<line x1="495" y1="146.5" x2="506" y2="146.5" stroke="#000000" stroke-width="1"  shape-rendering="crispEdges"/>
<path d="M491.2,159.0 L494.8,161.4 L491.2,163.8" fill="none" stroke="#820000" stroke-width="1.2"/>
<line x1="456" y1="150.5" x2="473" y2="150.5" stroke="#06470b" stroke-width="1"  shape-rendering="crispEdges"/>
<line x1="455.5" y1="150" x2="455.5" y2="182" stroke="#06470b" stroke-width="1"  shape-rendering="crispEdges"/>
<line x1="446" y1="182.0" x2="465" y2="182.0" stroke="#06470b" stroke-width="2"  shape-rendering="crispEdges"/>
<line x1="452" y1="187.5" x2="460" y2="187.5" stroke="#06470b" stroke-width="1"  shape-rendering="crispEdges"/>
<line x1="455" y1="193.5" x2="456" y2="193.5" stroke="#06470b" stroke-width="1"  shape-rendering="crispEdges"/>
<line x1="438" y1="161.0" x2="473" y2="161.0" stroke="#06470b" stroke-width="2"  shape-rendering="crispEdges"/>
<rect x="435" y="159.2" width="5" height="4.5" fill="#06470b"/>
<rect x="434.2" y="160.8" width="1" height="1.2" fill="#06470b"/>
<text x="446.3" y="158.6" font-size="8.64" text-anchor="start" fill="#000000" font-weight="normal" textLength="3.8" lengthAdjust="spacingAndGlyphs" stroke="#000" stroke-width="0.28" >2</text>
<text x="490.5" y="180.6" font-size="9.0" text-anchor="start" fill="#000000" font-weight="normal" textLength="28.5" lengthAdjust="spacingAndGlyphs" stroke="#000" stroke-width="0.28" >74LS374</text>
<text x="490.5" y="192.2" font-size="9.0" text-anchor="start" fill="#808080" font-weight="normal" textLength="25" lengthAdjust="spacingAndGlyphs" stroke="#808080" stroke-width="0.25" >&lt;TEXT&gt;</text>
<rect x="491.2" y="225.0" width="55.19999999999999" height="127.5" fill="#c8c8aa"/>
<line x1="490" y1="225.0" x2="547" y2="225.0" stroke="#820000" stroke-width="2"  shape-rendering="crispEdges"/>
<line x1="491.0" y1="224" x2="491.0" y2="353" stroke="#820000" stroke-width="2"  shape-rendering="crispEdges"/>
<line x1="546.5" y1="224" x2="546.5" y2="353" stroke="#820000" stroke-width="1"  shape-rendering="crispEdges"/>
<line x1="490" y1="352.5" x2="547" y2="352.5" stroke="#820000" stroke-width="1"  shape-rendering="crispEdges"/>
<text x="491" y="221.3" font-size="14.2" text-anchor="start" fill="#000000" font-weight="normal" textLength="13.4" lengthAdjust="spacingAndGlyphs" >U3</text>
<line x1="473" y1="236.0" x2="491" y2="236.0" stroke="#820000" stroke-width="2"  shape-rendering="crispEdges"/>
<line x1="546" y1="236.0" x2="564" y2="236.0" stroke="#820000" stroke-width="2"  shape-rendering="crispEdges"/>
<line x1="564" y1="236.0" x2="609" y2="236.0" stroke="#06470b" stroke-width="2"  shape-rendering="crispEdges"/>
<line x1="609" y1="236.0" x2="618" y2="236.0" stroke="#820000" stroke-width="2"  shape-rendering="crispEdges"/>
<text x="482.6" y="235.20000000000002" font-size="9.6" text-anchor="end" fill="#000000" font-weight="normal" textLength="4.4" lengthAdjust="spacingAndGlyphs" stroke="#000" stroke-width="0.28" >3</text>
<text x="556.0" y="235.20000000000002" font-size="9.6" text-anchor="start" fill="#000000" font-weight="normal" textLength="4.2" lengthAdjust="spacingAndGlyphs" stroke="#000" stroke-width="0.28" >2</text>
<text x="494.8" y="239.4" font-size="9.0" text-anchor="start" fill="#000000" font-weight="normal" textLength="9" lengthAdjust="spacingAndGlyphs" stroke="#000" stroke-width="0.28" >D0</text>
<text x="530.8" y="239.4" font-size="9.0" text-anchor="start" fill="#000000" font-weight="normal" textLength="9.6" lengthAdjust="spacingAndGlyphs" stroke="#000" stroke-width="0.28" >Q0</text>
<line x1="473" y1="246.0" x2="491" y2="246.0" stroke="#820000" stroke-width="2"  shape-rendering="crispEdges"/>
<line x1="546" y1="246.0" x2="564" y2="246.0" stroke="#820000" stroke-width="2"  shape-rendering="crispEdges"/>
<line x1="564" y1="246.0" x2="609" y2="246.0" stroke="#06470b" stroke-width="2"  shape-rendering="crispEdges"/>
<line x1="609" y1="246.0" x2="618" y2="246.0" stroke="#820000" stroke-width="2"  shape-rendering="crispEdges"/>
<text x="482.6" y="245.20000000000002" font-size="9.6" text-anchor="end" fill="#000000" font-weight="normal" textLength="4.4" lengthAdjust="spacingAndGlyphs" stroke="#000" stroke-width="0.28" >4</text>
<text x="556.0" y="245.20000000000002" font-size="9.6" text-anchor="start" fill="#000000" font-weight="normal" textLength="4.2" lengthAdjust="spacingAndGlyphs" stroke="#000" stroke-width="0.28" >5</text>
<text x="494.8" y="249.4" font-size="9.0" text-anchor="start" fill="#000000" font-weight="normal" textLength="9" lengthAdjust="spacingAndGlyphs" stroke="#000" stroke-width="0.28" >D1</text>
<text x="530.8" y="249.4" font-size="9.0" text-anchor="start" fill="#000000" font-weight="normal" textLength="9.6" lengthAdjust="spacingAndGlyphs" stroke="#000" stroke-width="0.28" >Q1</text>
<line x1="473" y1="257.0" x2="491" y2="257.0" stroke="#820000" stroke-width="2"  shape-rendering="crispEdges"/>
<line x1="546" y1="257.0" x2="564" y2="257.0" stroke="#820000" stroke-width="2"  shape-rendering="crispEdges"/>
<line x1="564" y1="257.0" x2="609" y2="257.0" stroke="#06470b" stroke-width="2"  shape-rendering="crispEdges"/>
<line x1="609" y1="257.0" x2="618" y2="257.0" stroke="#820000" stroke-width="2"  shape-rendering="crispEdges"/>
<text x="482.6" y="256.09999999999997" font-size="9.6" text-anchor="end" fill="#000000" font-weight="normal" textLength="4.4" lengthAdjust="spacingAndGlyphs" stroke="#000" stroke-width="0.28" >7</text>
<text x="556.0" y="256.09999999999997" font-size="9.6" text-anchor="start" fill="#000000" font-weight="normal" textLength="4.2" lengthAdjust="spacingAndGlyphs" stroke="#000" stroke-width="0.28" >6</text>
<text x="494.8" y="260.3" font-size="9.0" text-anchor="start" fill="#000000" font-weight="normal" textLength="9" lengthAdjust="spacingAndGlyphs" stroke="#000" stroke-width="0.28" >D2</text>
<text x="530.8" y="260.3" font-size="9.0" text-anchor="start" fill="#000000" font-weight="normal" textLength="9.6" lengthAdjust="spacingAndGlyphs" stroke="#000" stroke-width="0.28" >Q2</text>
<line x1="473" y1="267.5" x2="491" y2="267.5" stroke="#820000" stroke-width="1"  shape-rendering="crispEdges"/>
<line x1="546" y1="267.5" x2="564" y2="267.5" stroke="#820000" stroke-width="1"  shape-rendering="crispEdges"/>
<line x1="564" y1="267.5" x2="609" y2="267.5" stroke="#06470b" stroke-width="1"  shape-rendering="crispEdges"/>
<line x1="609" y1="267.5" x2="618" y2="267.5" stroke="#820000" stroke-width="1"  shape-rendering="crispEdges"/>
<text x="482.6" y="266.9" font-size="9.6" text-anchor="end" fill="#000000" font-weight="normal" textLength="4.4" lengthAdjust="spacingAndGlyphs" stroke="#000" stroke-width="0.28" >8</text>
<text x="556.0" y="266.9" font-size="9.6" text-anchor="start" fill="#000000" font-weight="normal" textLength="4.2" lengthAdjust="spacingAndGlyphs" stroke="#000" stroke-width="0.28" >9</text>
<text x="494.8" y="271.1" font-size="9.0" text-anchor="start" fill="#000000" font-weight="normal" textLength="9" lengthAdjust="spacingAndGlyphs" stroke="#000" stroke-width="0.28" >D3</text>
<text x="530.8" y="271.1" font-size="9.0" text-anchor="start" fill="#000000" font-weight="normal" textLength="9.6" lengthAdjust="spacingAndGlyphs" stroke="#000" stroke-width="0.28" >Q3</text>
<line x1="473" y1="277.0" x2="491" y2="277.0" stroke="#820000" stroke-width="2"  shape-rendering="crispEdges"/>
<line x1="546" y1="277.0" x2="564" y2="277.0" stroke="#820000" stroke-width="2"  shape-rendering="crispEdges"/>
<line x1="564" y1="277.0" x2="609" y2="277.0" stroke="#06470b" stroke-width="2"  shape-rendering="crispEdges"/>
<line x1="609" y1="277.0" x2="618" y2="277.0" stroke="#820000" stroke-width="2"  shape-rendering="crispEdges"/>
<text x="482.6" y="276.2" font-size="9.6" text-anchor="end" fill="#000000" font-weight="normal" textLength="8.6" lengthAdjust="spacingAndGlyphs" stroke="#000" stroke-width="0.28" >13</text>
<text x="556.0" y="276.2" font-size="9.6" text-anchor="start" fill="#000000" font-weight="normal" textLength="7.6" lengthAdjust="spacingAndGlyphs" stroke="#000" stroke-width="0.28" >12</text>
<text x="494.8" y="280.40000000000003" font-size="9.0" text-anchor="start" fill="#000000" font-weight="normal" textLength="9" lengthAdjust="spacingAndGlyphs" stroke="#000" stroke-width="0.28" >D4</text>
<text x="530.8" y="280.40000000000003" font-size="9.0" text-anchor="start" fill="#000000" font-weight="normal" textLength="9.6" lengthAdjust="spacingAndGlyphs" stroke="#000" stroke-width="0.28" >Q4</text>
<line x1="473" y1="288.0" x2="491" y2="288.0" stroke="#820000" stroke-width="2"  shape-rendering="crispEdges"/>
<line x1="546" y1="288.0" x2="564" y2="288.0" stroke="#820000" stroke-width="2"  shape-rendering="crispEdges"/>
<line x1="564" y1="288.0" x2="609" y2="288.0" stroke="#06470b" stroke-width="2"  shape-rendering="crispEdges"/>
<line x1="609" y1="288.0" x2="618" y2="288.0" stroke="#820000" stroke-width="2"  shape-rendering="crispEdges"/>
<text x="482.6" y="287.29999999999995" font-size="9.6" text-anchor="end" fill="#000000" font-weight="normal" textLength="8.6" lengthAdjust="spacingAndGlyphs" stroke="#000" stroke-width="0.28" >14</text>
<text x="556.0" y="287.29999999999995" font-size="9.6" text-anchor="start" fill="#000000" font-weight="normal" textLength="7.6" lengthAdjust="spacingAndGlyphs" stroke="#000" stroke-width="0.28" >15</text>
<text x="494.8" y="291.5" font-size="9.0" text-anchor="start" fill="#000000" font-weight="normal" textLength="9" lengthAdjust="spacingAndGlyphs" stroke="#000" stroke-width="0.28" >D5</text>
<text x="530.8" y="291.5" font-size="9.0" text-anchor="start" fill="#000000" font-weight="normal" textLength="9.6" lengthAdjust="spacingAndGlyphs" stroke="#000" stroke-width="0.28" >Q5</text>
<line x1="473" y1="299.0" x2="491" y2="299.0" stroke="#820000" stroke-width="2"  shape-rendering="crispEdges"/>
<line x1="546" y1="299.0" x2="564" y2="299.0" stroke="#820000" stroke-width="2"  shape-rendering="crispEdges"/>
<line x1="564" y1="299.0" x2="609" y2="299.0" stroke="#06470b" stroke-width="2"  shape-rendering="crispEdges"/>
<line x1="609" y1="299.0" x2="618" y2="299.0" stroke="#820000" stroke-width="2"  shape-rendering="crispEdges"/>
<text x="482.6" y="298.4" font-size="9.6" text-anchor="end" fill="#000000" font-weight="normal" textLength="8.6" lengthAdjust="spacingAndGlyphs" stroke="#000" stroke-width="0.28" >17</text>
<text x="556.0" y="298.4" font-size="9.6" text-anchor="start" fill="#000000" font-weight="normal" textLength="7.6" lengthAdjust="spacingAndGlyphs" stroke="#000" stroke-width="0.28" >16</text>
<text x="494.8" y="302.6" font-size="9.0" text-anchor="start" fill="#000000" font-weight="normal" textLength="9" lengthAdjust="spacingAndGlyphs" stroke="#000" stroke-width="0.28" >D6</text>
<text x="530.8" y="302.6" font-size="9.0" text-anchor="start" fill="#000000" font-weight="normal" textLength="9.6" lengthAdjust="spacingAndGlyphs" stroke="#000" stroke-width="0.28" >Q6</text>
<line x1="473" y1="310.0" x2="491" y2="310.0" stroke="#820000" stroke-width="2"  shape-rendering="crispEdges"/>
<line x1="546" y1="310.0" x2="564" y2="310.0" stroke="#820000" stroke-width="2"  shape-rendering="crispEdges"/>
<text x="482.6" y="309.2" font-size="9.6" text-anchor="end" fill="#000000" font-weight="normal" textLength="8.6" lengthAdjust="spacingAndGlyphs" stroke="#000" stroke-width="0.28" >18</text>
<text x="556.0" y="309.2" font-size="9.6" text-anchor="start" fill="#000000" font-weight="normal" textLength="7.6" lengthAdjust="spacingAndGlyphs" stroke="#000" stroke-width="0.28" >19</text>
<text x="494.8" y="313.40000000000003" font-size="9.0" text-anchor="start" fill="#000000" font-weight="normal" textLength="9" lengthAdjust="spacingAndGlyphs" stroke="#000" stroke-width="0.28" >D7</text>
<text x="530.8" y="313.40000000000003" font-size="9.0" text-anchor="start" fill="#000000" font-weight="normal" textLength="9.6" lengthAdjust="spacingAndGlyphs" stroke="#000" stroke-width="0.28" >Q7</text>
<line x1="473" y1="330.5" x2="491" y2="330.5" stroke="#820000" stroke-width="1"  shape-rendering="crispEdges"/>
<line x1="473" y1="341.5" x2="491" y2="341.5" stroke="#820000" stroke-width="1"  shape-rendering="crispEdges"/>
<text x="477.6" y="329.6" font-size="9.6" text-anchor="start" fill="#000000" font-weight="normal" textLength="3.4" lengthAdjust="spacingAndGlyphs" stroke="#000" stroke-width="0.28" >1</text>
<text x="473.5" y="340.7" font-size="9.6" text-anchor="start" fill="#000000" font-weight="normal" textLength="7.2" lengthAdjust="spacingAndGlyphs" stroke="#000" stroke-width="0.28" >11</text>
<text x="494.9" y="334.40000000000003" font-size="9.0" text-anchor="start" fill="#000000" font-weight="normal" textLength="10.4" lengthAdjust="spacingAndGlyphs" stroke="#000" stroke-width="0.28" >OE</text>
<text x="494.9" y="345.4" font-size="9.0" text-anchor="start" fill="#000000" font-weight="normal" textLength="13.9" lengthAdjust="spacingAndGlyphs" stroke="#000" stroke-width="0.28" >CLK</text>
<path d="M491.2,339.3 L494.8,341.7 L491.2,344.09999999999997" fill="none" stroke="#820000" stroke-width="1.2"/>
<line x1="464" y1="330.5" x2="473" y2="330.5" stroke="#06470b" stroke-width="1"  shape-rendering="crispEdges"/>
<line x1="464.5" y1="330" x2="464.5" y2="363" stroke="#06470b" stroke-width="1"  shape-rendering="crispEdges"/>
<line x1="456" y1="363.5" x2="473" y2="363.5" stroke="#06470b" stroke-width="1"  shape-rendering="crispEdges"/>
<line x1="459" y1="368.0" x2="470" y2="368.0" stroke="#06470b" stroke-width="2"  shape-rendering="crispEdges"/>
<line x1="463" y1="373.5" x2="466" y2="373.5" stroke="#06470b" stroke-width="1"  shape-rendering="crispEdges"/>
<line x1="438" y1="341.5" x2="473" y2="341.5" stroke="#06470b" stroke-width="1"  shape-rendering="crispEdges"/>
<rect x="435" y="339.6" width="5" height="4.5" fill="#06470b"/>
<rect x="434.2" y="341.09999999999997" width="1" height="1.2" fill="#06470b"/>
<text x="446.3" y="339.3" font-size="8.64" text-anchor="start" fill="#000000" font-weight="normal" textLength="3.8" lengthAdjust="spacingAndGlyphs" stroke="#000" stroke-width="0.28" >1</text>
<text x="490.5" y="362.6" font-size="9.0" text-anchor="start" fill="#000000" font-weight="normal" textLength="28.5" lengthAdjust="spacingAndGlyphs" stroke="#000" stroke-width="0.28" >74LS374</text>
<text x="490.5" y="372.8" font-size="9.0" text-anchor="start" fill="#808080" font-weight="normal" textLength="25" lengthAdjust="spacingAndGlyphs" stroke="#808080" stroke-width="0.25" >&lt;TEXT&gt;</text>
<rect x="608" y="31" width="62" height="105" fill="#800000" shape-rendering="crispEdges"/>
<rect x="609" y="33" width="59" height="100" fill="#430000" shape-rendering="crispEdges"/>
<polygon points="627.0,42.4 653.4,42.4 656.6,45.4 652.4,50.2 627.8,50.2 624.0,45.4" fill="#650000"/>
<polygon points="623.6,46.3 627.6,51.0 625.9,79.2 622.3,83.0 619.9,79.6 621.4,49.0" fill="#650000"/>
<polygon points="656.9,46.3 659.4,49.0 657.7,79.6 655.0,83.0 651.7,79.2 652.9,51.0" fill="#650000"/>
<polygon points="625.8,80.0 651.9,80.0 655.0,83.6 651.6,87.3 625.3,87.3 622.4,83.6" fill="#650000"/>
<polygon points="621.9,84.2 625.4,88.1 624.0,116.3 620.3,120.2 618.1,117.0 619.5,87.0" fill="#650000"/>
<polygon points="654.8,84.2 657.5,87.0 656.1,117.0 653.0,120.2 649.7,116.3 651.2,88.1" fill="#650000"/>
<polygon points="624.0,116.9 650.1,116.9 653.0,120.6 649.9,124.6 623.7,124.6 620.4,120.6" fill="#650000"/>
<rect x="617" y="214" width="61" height="101" fill="#800000" shape-rendering="crispEdges"/>
<rect x="619" y="215" width="57" height="99" fill="#430000" shape-rendering="crispEdges"/>
<polygon points="636.0,224.7 662.4,224.7 665.6,227.6 661.4,232.3 636.8,232.3 633.0,227.6" fill="#650000"/>
<polygon points="632.6,228.5 636.6,233.1 634.9,260.6 631.3,264.3 628.9,260.9 630.4,231.1" fill="#650000"/>
<polygon points="665.9,228.5 668.4,231.1 666.7,260.9 664.0,264.3 660.7,260.6 661.9,233.1" fill="#650000"/>
<polygon points="634.8,261.3 660.9,261.3 664.0,264.8 660.6,268.4 634.3,268.4 631.4,264.8" fill="#650000"/>
<polygon points="630.9,265.4 634.4,269.2 633.0,296.7 629.3,300.5 627.1,297.4 628.5,268.2" fill="#650000"/>
<polygon points="663.8,265.4 666.5,268.2 665.1,297.4 662.0,300.5 658.7,296.7 660.2,269.2" fill="#650000"/>
<polygon points="633.0,297.3 659.1,297.3 662.0,300.9 658.9,304.8 632.7,304.8 629.4,300.9" fill="#650000"/>
<line x1="664.0" y1="21" x2="664.0" y2="31" stroke="#820000" stroke-width="2"  shape-rendering="crispEdges"/>
<line x1="670.9" y1="0" x2="663.9" y2="21.6" stroke="#06470b" stroke-width="1.3" />
<line x1="672.5" y1="203" x2="672.5" y2="214" stroke="#820000" stroke-width="1"  shape-rendering="crispEdges"/>
<line x1="679.5" y1="15" x2="679.5" y2="53" stroke="#06470b" stroke-width="1"  shape-rendering="crispEdges"/>
<line x1="678.5" y1="53" x2="678.5" y2="78" stroke="#06470b" stroke-width="1"  shape-rendering="crispEdges"/>
<line x1="677.5" y1="78" x2="677.5" y2="104" stroke="#06470b" stroke-width="1"  shape-rendering="crispEdges"/>
<line x1="676.5" y1="104" x2="676.5" y2="129" stroke="#06470b" stroke-width="1"  shape-rendering="crispEdges"/>
<line x1="675.5" y1="129" x2="675.5" y2="146" stroke="#06470b" stroke-width="1"  shape-rendering="crispEdges"/>
<line x1="674.5" y1="146" x2="674.5" y2="166" stroke="#06470b" stroke-width="1"  shape-rendering="crispEdges"/>
<line x1="673.5" y1="166" x2="673.5" y2="184" stroke="#06470b" stroke-width="1"  shape-rendering="crispEdges"/>
<line x1="672.5" y1="184" x2="672.5" y2="203" stroke="#06470b" stroke-width="1"  shape-rendering="crispEdges"/>
<rect x="680" y="0" width="1" height="444" fill="#fff" shape-rendering="crispEdges"/>
<rect x="0" y="440" width="681" height="4" fill="#fff" shape-rendering="crispEdges"/>
</svg>
</body></html>
